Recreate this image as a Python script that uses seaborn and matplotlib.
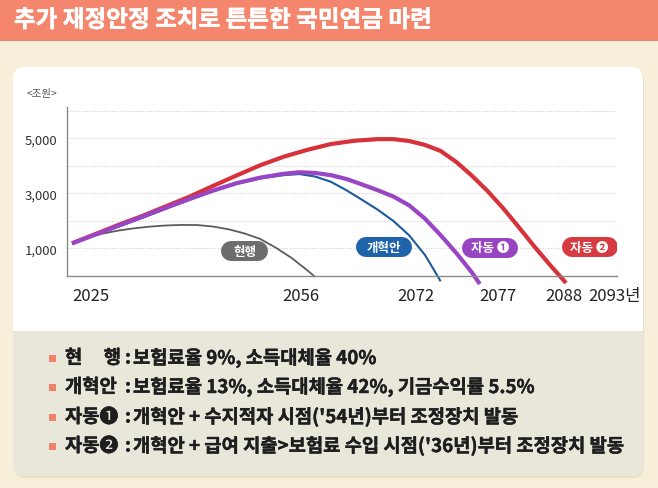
import numpy as np
import pandas as pd
import matplotlib
matplotlib.use("Agg")
import matplotlib.pyplot as plt
import matplotlib.patheffects as pe
import seaborn as sns
from matplotlib.patches import FancyBboxPatch, Rectangle
from matplotlib.transforms import IdentityTransform

# ---------------- data ----------------
title = "추가 재정안정 조치로 튼튼한 국민연금 마련"
unit_label = "<조원>"

cur_years = [2025, 2027, 2029, 2031, 2033, 2035, 2037, 2039, 2041, 2043, 2045, 2047,
             2049, 2051, 2053, 2055, 2056]
cur_vals = [1180, 1400, 1540, 1650, 1730, 1790, 1830, 1850, 1845, 1790, 1690, 1540,
            1340, 1020, 650, 200, -40]

ref_years = [2025, 2028, 2031, 2034, 2037, 2040, 2043, 2046, 2049, 2052, 2054, 2056,
             2058, 2060, 2062, 2064, 2066, 2068, 2070, 2071, 2072]
ref_vals = [1180, 1480, 1800, 2110, 2440, 2760, 3070, 3340, 3540, 3660, 3700, 3610,
            3420, 3110, 2760, 2400, 1990, 1470, 760, 290, -200]

auto1_years = [2025, 2028, 2031, 2034, 2037, 2040, 2043, 2046, 2049, 2052, 2054, 2056,
               2058, 2060, 2062, 2064, 2066, 2068, 2070, 2072, 2074, 2076, 2077]
auto1_vals = [1180, 1500, 1830, 2150, 2480, 2800, 3100, 3370, 3570, 3710, 3765, 3740,
              3660, 3520, 3320, 3110, 2880, 2560, 2080, 1480, 830, 120, -300]

auto2_years = [2025, 2028, 2031, 2034, 2037, 2040, 2043, 2046, 2049, 2052, 2055, 2058,
               2061, 2064, 2066, 2068, 2070, 2072, 2074, 2076, 2078, 2080, 2082, 2084,
               2086, 2088]
auto2_vals = [1180, 1520, 1860, 2180, 2530, 2880, 3270, 3650, 4020, 4330, 4580, 4790,
              4910, 4970, 4970, 4900, 4760, 4540, 4140, 3640, 3080, 2450, 1760, 1050,
              380, -260]

y_ticks = [1000, 2000, 3000, 4000, 5000, 6000]
y_tick_labels = ["1,000", "", "3,000", "", "5,000", ""]
x_labels = ["2025", "2056", "2072", "2077", "2088", "2093년"]
x_label_years = [2025, 2056, 2072, 2077, 2088, 2093]

legend_labels = ["현행", "개혁안", "자동❶", "자동❷"]
legend_desc = [
    "보험료율 9%, 소득대체율 40%",
    "보험료율 13%, 소득대체율 42%, 기금수익률 5.5%",
    "개혁안 + 수지적자 시점('54년)부터 조정장치 발동",
    "개혁안 + 급여 지출>보험료 수입 시점('36년)부터 조정장치 발동",
]

# ---------------- style ----------------
sns.set_theme(style="white")
plt.rcParams["font.family"] = ["Noto Sans CJK KR", "DejaVu Sans"]

W, H = 658, 489
fig = plt.figure(figsize=(W / 100, H / 100), dpi=100, facecolor="#f7efd9")


def add_box(x, y_top, w, h, color, r=0, z=-10):
    if r > 0:
        p = FancyBboxPatch((x, H - y_top - h), w, h,
                           boxstyle=f"round,pad=0,rounding_size={r}",
                           fc=color, ec="none", transform=IdentityTransform(), zorder=z)
    else:
        p = Rectangle((x, H - y_top - h), w, h, fc=color, ec="none",
                      transform=IdentityTransform(), zorder=z)
    fig.add_artist(p)


# background blocks
add_box(0, 0, W, 42, "#f4866e")
add_box(14, 70, 630, 409, "#e9e0c8", r=12, z=-12)
add_box(13, 68, 630, 409, "#ffffff", r=12, z=-11)
add_box(13, 332, 630, 145, "#e9e6da", r=12, z=-10)
add_box(13, 332, 630, 20, "#e9e6da", z=-10)

fig.text(14 / W, 1 - 21 / H, title, color="white", fontsize=17, fontweight="bold",
         ha="left", va="center",
         path_effects=[pe.withStroke(linewidth=0.35, foreground="white")])

# ---------------- axes ----------------
ax = fig.add_axes([67 / W, 1 - 276.8 / H, 550 / W, 168.5 / H])
ax.set_facecolor("none")

colors = {"현행": "#5c5c5c", "개혁안": "#1b5b9c", "자동 ❶": "#9a45c6", "자동 ❷": "#d7313a"}
widths = {"현행": 1.3, "개혁안": 1.5, "자동 ❶": 3.0, "자동 ❷": 3.0}

frames = []
for name, yrs, vals in [("현행", cur_years, cur_vals), ("개혁안", ref_years, ref_vals),
                        ("자동 ❶", auto1_years, auto1_vals), ("자동 ❷", auto2_years, auto2_vals)]:
    frames.append(pd.DataFrame({"year": yrs, "value": vals, "scenario": name}))
df = pd.concat(frames, ignore_index=True)

for name in ["현행", "자동 ❷", "개혁안", "자동 ❶"]:
    sub = df[df["scenario"] == name]
    sns.lineplot(data=sub, x="year", y="value", ax=ax, color=colors[name],
                 linewidth=widths[name], estimator=None, clip_on=False,
                 solid_capstyle="butt", solid_joinstyle="round", legend=False)

ax.set_xlim(2024.36, 2094.5)
ax.set_ylim(0, 6127)
ax.set_yticks(y_ticks)
ax.set_yticklabels(y_tick_labels)
ax.set_xticks([])
ax.set_xlabel("")
ax.set_ylabel("")
ax.yaxis.grid(True, linestyle=(0, (1, 1.5)), color="#cfcfcf", linewidth=0.8)
ax.xaxis.grid(False)
ax.set_axisbelow(True)
ax.tick_params(axis="y", length=0, pad=7, labelsize=9.5, labelcolor="#333333")
for s in ["top", "right"]:
    ax.spines[s].set_visible(False)
for s in ["left", "bottom"]:
    ax.spines[s].set_color("#8a8a8a")
    ax.spines[s].set_linewidth(1.0)

fig.text(27 / W, 1 - 94 / H, unit_label, fontsize=7.5, color="#555555", ha="left", va="center")

# x labels (custom positions under line endpoints)
x_align = [("left", 0), ("right", 4), ("right", -6), ("left", 0), ("center", -2), ("left", -17)]
for lab, yr, (ha, dx) in zip(x_labels, x_label_years, x_align):
    ax.annotate(lab, xy=(yr, 0), xycoords=("data", "axes fraction"),
                xytext=(dx * 0.72, -20 * 0.72), textcoords="offset points",
                ha=ha, va="center", fontsize=12, color="#222222")

# pills
pill_layout = [("현행", 2047.0, 900, 47), ("개혁안", 2064.8, 1030, 56),
               ("자동 ❶", 2078.3, 1020, 56), ("자동 ❷", 2091.0, 1040, 56)]
pill_colors = {"현행": "#6d6d6d", "개혁안": "#1f63ab", "자동 ❶": "#9745c0", "자동 ❷": "#d73a41"}
ppy = 550 / (2094.5 - 2024.36)
for name, xc, yc, wpx in pill_layout:
    half = (wpx / 2 - 10) / ppy
    ax.plot([xc - half, xc + half], [yc, yc], lw=20 * 0.72, color=pill_colors[name],
            solid_capstyle="round", zorder=5)
    ax.text(xc, yc, name, ha="center", va="center", color="white", fontsize=9,
            fontweight="bold", zorder=6)

# ---------------- legend block ----------------
line_y = [359, 388, 418, 447]
fs = 13.5
stroke = [pe.withStroke(linewidth=0.3, foreground="#1e1e1e")]
for i, (lab, desc) in enumerate(zip(legend_labels, legend_desc)):
    y = 1 - line_y[i] / H
    add_box(48.5, line_y[i] - 3.5, 7, 7, "#f0826a", z=-5)
    kw = dict(fontsize=fs, fontweight="bold", color="#1e1e1e", va="center", path_effects=stroke)
    if lab == "현행":
        fig.text(65 / W, y, lab[0], ha="left", **kw)
        fig.text(121 / W, y, lab[1], ha="right", **kw)
    else:
        fig.text(65 / W, y, lab, ha="left", **kw)
    fig.text(128 / W, y, ":", ha="center", **kw)
    fig.text(133 / W, y, desc, ha="left", **kw)

fig.savefig("out.png", dpi=100, facecolor=fig.get_facecolor())
